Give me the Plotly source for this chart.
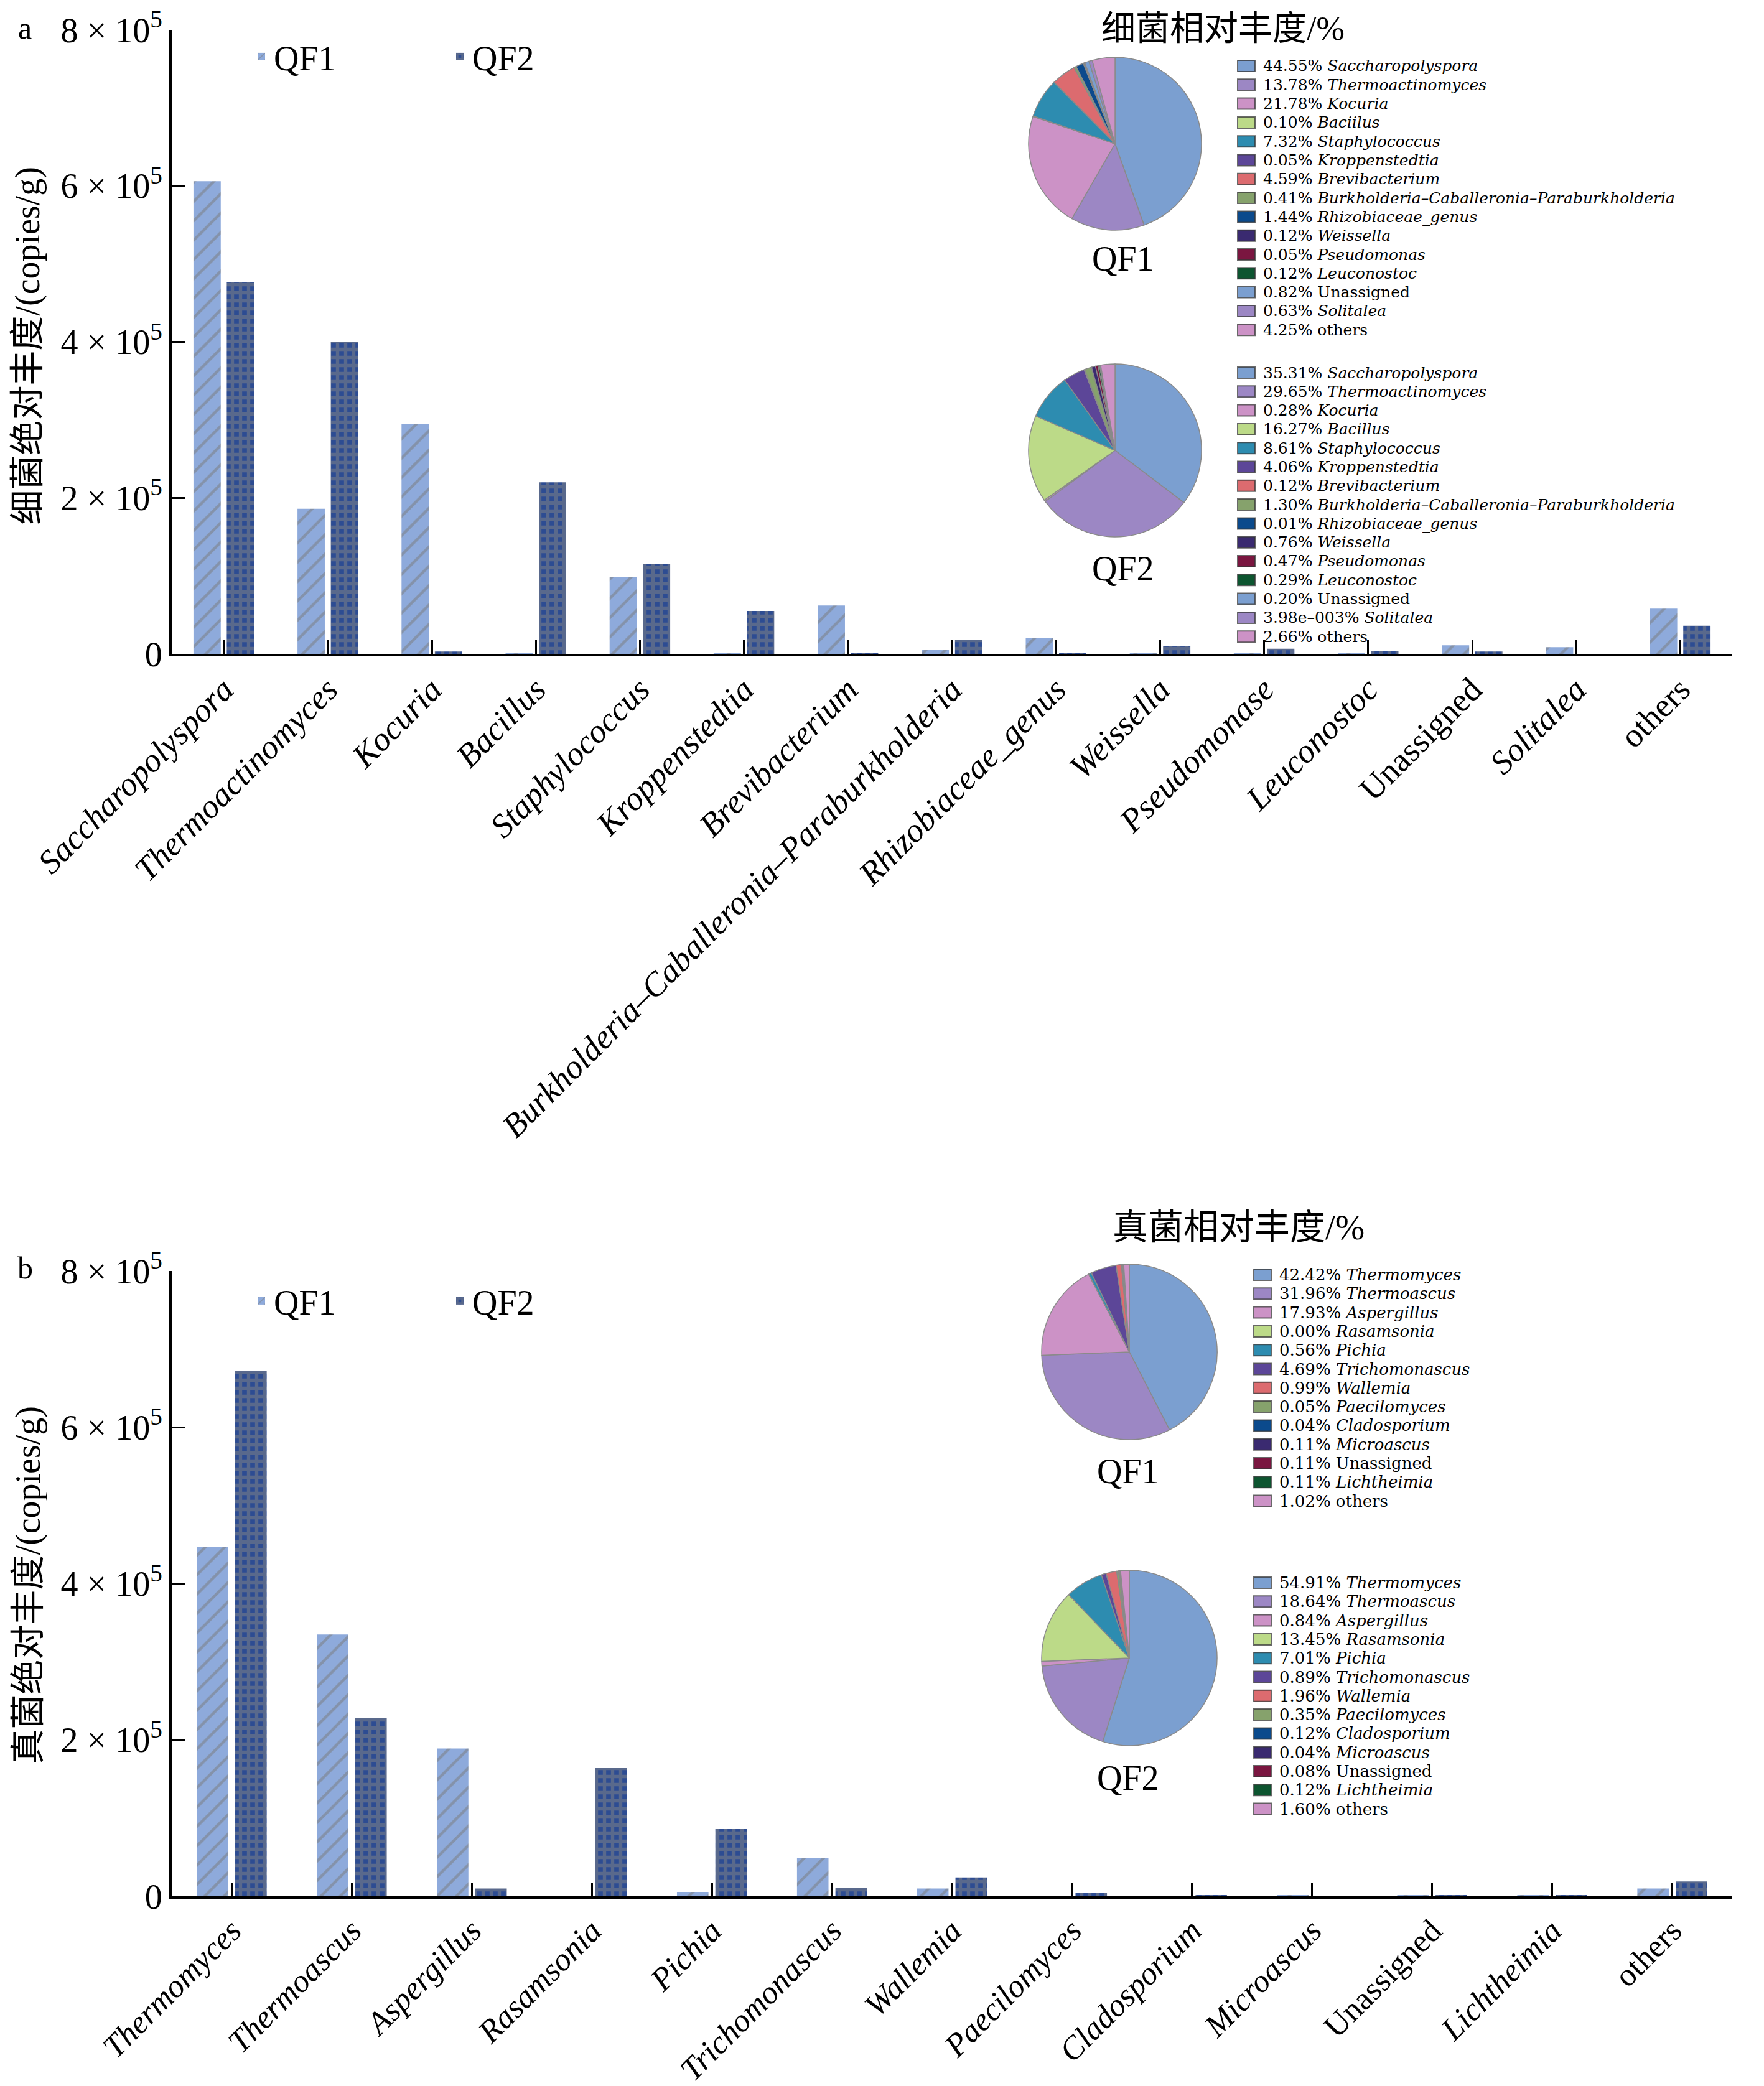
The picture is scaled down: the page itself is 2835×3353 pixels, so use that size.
"""Bacterial and fungal absolute / relative abundance, QF1 vs QF2."""

import plotly.graph_objects as go

W, H = 2835, 3353

# ---- bacteria -------------------------------------------------------------
bac_genus = [
    "Saccharopolyspora", "Thermoactinomyces", "Kocuria", "Bacillus",
    "Staphylococcus", "Kroppenstedtia", "Brevibacterium",
    "Burkholderia–Caballeronia–Paraburkholderia", "Rhizobiaceae_genus",
    "Weissella", "Pseudomonase", "Leuconostoc", "Unassigned", "Solitalea",
    "others",
]
bac_qf1 = [6.06e5, 1.86e5, 2.95e5, 0.012e5, 0.99e5, 0.006e5, 0.62e5, 0.05e5,
           0.20e5, 0.015e5, 0.006e5, 0.015e5, 0.11e5, 0.085e5, 0.58e5]
bac_qf2 = [4.77e5, 4.00e5, 0.03e5, 2.20e5, 1.15e5, 0.55e5, 0.016e5, 0.18e5,
           0.001e5, 0.10e5, 0.065e5, 0.04e5, 0.03e5, 0.0, 0.36e5]

bac_pie_names_qf1 = [
    "Saccharopolyspora", "Thermoactinomyces", "Kocuria", "Baciilus",
    "Staphylococcus", "Kroppenstedtia", "Brevibacterium",
    "Burkholderia–Caballeronia–Paraburkholderia", "Rhizobiaceae_genus",
    "Weissella", "Pseudomonas", "Leuconostoc", "Unassigned", "Solitalea",
    "others",
]
bac_pie_names_qf2 = [n.replace("Baciilus", "Bacillus") for n in bac_pie_names_qf1]
bac_pct_qf1 = [44.55, 13.78, 21.78, 0.10, 7.32, 0.05, 4.59, 0.41, 1.44, 0.12,
               0.05, 0.12, 0.82, 0.63, 4.25]
bac_pct_qf2 = [35.31, 29.65, 0.28, 16.27, 8.61, 4.06, 0.12, 1.30, 0.01, 0.76,
               0.47, 0.29, 0.20, 0.00398, 2.66]

# ---- fungi ----------------------------------------------------------------
fun_genus = [
    "Thermomyces", "Thermoascus", "Aspergillus", "Rasamsonia", "Pichia",
    "Trichomonascus", "Wallemia", "Paecilomyces", "Cladosporium",
    "Microascus", "Unassigned", "Lichtheimia", "others",
]
fun_qf1 = [4.47e5, 3.35e5, 1.89e5, 0.0, 0.056e5, 0.49e5, 0.10e5, 0.005e5,
           0.004e5, 0.012e5, 0.012e5, 0.012e5, 0.10e5]
fun_qf2 = [6.72e5, 2.28e5, 0.10e5, 1.64e5, 0.86e5, 0.11e5, 0.24e5, 0.04e5,
           0.015e5, 0.005e5, 0.01e5, 0.015e5, 0.19e5]
fun_pct_qf1 = [42.42, 31.96, 17.93, 0.001, 0.56, 4.69, 0.99, 0.05, 0.04, 0.11,
               0.11, 0.11, 1.02]
fun_pct_qf2 = [54.91, 18.64, 0.84, 13.45, 7.01, 0.89, 1.96, 0.35, 0.12, 0.04,
               0.08, 0.12, 1.60]

y_ticks = [0, 2e5, 4e5, 6e5, 8e5]
y_ticktext = ["0", "2 × 10<sup>5</sup>", "4 × 10<sup>5</sup>",
              "6 × 10<sup>5</sup>", "8 × 10<sup>5</sup>"]

_PIE = ["#7b9fd0", "#9c87c4", "#cc92c6", "#bcda88", "#2d8cb0", "#5c4698",
        "#dc6b6f", "#86a26c", "#0b4a8c", "#3a2a70", "#7a1640", "#0d5530"]
bac_colors = _PIE + _PIE[:3]
fun_colors = _PIE + [_PIE[2]]

ROMAN = {"Unassigned", "others"}
SERIF = "Liberation Serif, Noto Sans CJK SC"
KEY_FONT = "DejaVu Serif"
ROW = 30.3  # key row pitch, px


def fmt_name(n):
    return n if n in ROMAN else f"<i>{n}</i>"


def fmt_pct(v):
    if 0.001 < v < 0.005:
        return f"{v:.2e}".replace("e-0", "e–00") + "%"
    return f"{v:.2f}%"


def px_x(x):
    return x / W


def px_y(y):
    return 1 - y / H


def pie_domain(cx, cy, r):
    return {"x": [px_x(cx - r), px_x(cx + r)], "y": [px_y(cy + r), px_y(cy - r)]}


def bar_pair(x, q1, q2, xa, ya, leg):
    t1 = go.Bar(
        x=x, y=q1, name="QF1", xaxis=xa, yaxis=ya, legend=leg,
        marker={"color": "#8eaadb", "line": {"width": 0},
                "pattern": {"shape": "/", "fgcolor": "#7a7a7a", "size": 22,
                            "solidity": 0.2}},
    )
    t2 = go.Bar(
        x=x, y=q2, name="QF2", xaxis=xa, yaxis=ya, legend=leg,
        marker={"color": "#2d4c92", "line": {"width": 0},
                "pattern": {"shape": "+", "fgcolor": "#858585", "size": 13,
                            "solidity": 0.65}},
    )
    return [t1, t2]


def pie(pct, colors, dom):
    return go.Pie(
        values=pct, sort=False, direction="clockwise", rotation=0,
        textinfo="none", showlegend=False, domain=dom,
        marker={"colors": colors, "line": {"color": "#8a8a8a", "width": 1.5}},
    )


def pie_key(fig, names, pct, colors, x0, y0, size):
    """Compact key beside a pie: swatch + 'pct name' per row."""
    for i, (n, v, c) in enumerate(zip(names, pct, colors)):
        yc = y0 + i * ROW
        fig.add_shape(
            type="rect", xref="paper", yref="paper",
            x0=px_x(x0), x1=px_x(x0 + 28), y0=px_y(yc + 9), y1=px_y(yc - 9),
            fillcolor=c, line={"color": "rgba(55,55,55,0.75)", "width": 2},
        )
        fig.add_annotation(
            text=f"{fmt_pct(v)} {fmt_name(n)}", x=px_x(x0 + 40), y=px_y(yc),
            xref="paper", yref="paper", xanchor="left", yanchor="middle",
            showarrow=False, borderpad=0,
            font={"family": KEY_FONT, "size": size},
        )


fig = go.Figure()
for t in bar_pair(bac_genus, bac_qf1, bac_qf2, "x", "y", "legend"):
    fig.add_trace(t)
for t in bar_pair(fun_genus, fun_qf1, fun_qf2, "x2", "y2", "legend2"):
    fig.add_trace(t)

fig.add_trace(pie(bac_pct_qf1, bac_colors, pie_domain(1784, 223, 139)))
fig.add_trace(pie(bac_pct_qf2, bac_colors, pie_domain(1784, 716, 139)))
fig.add_trace(pie(fun_pct_qf1, fun_colors, pie_domain(1807, 2165, 141)))
fig.add_trace(pie(fun_pct_qf2, fun_colors, pie_domain(1807, 2657, 141)))

pie_key(fig, bac_pie_names_qf1, bac_pct_qf1, bac_colors, 1981, 98, 25)
pie_key(fig, bac_pie_names_qf2, bac_pct_qf2, bac_colors, 1981, 591, 25)
pie_key(fig, fun_genus, fun_pct_qf1, fun_colors, 2007, 2041, 26)
pie_key(fig, fun_genus, fun_pct_qf2, fun_colors, 2007, 2536, 26)

axis_common = {
    "showline": True, "linecolor": "black", "linewidth": 4,
    "ticks": "inside", "ticklen": 22, "tickwidth": 3, "tickcolor": "black",
    "showgrid": False, "zeroline": False, "automargin": False,
}
xdom = [px_x(268), px_x(2776)]

fig.update_layout(
    xaxis={**axis_common, "domain": xdom, "anchor": "y",
           "tickvals": bac_genus, "ticktext": [fmt_name(n) for n in bac_genus],
           "tickangle": -45, "tickfont": {"family": SERIF, "size": 54}},
    yaxis={**axis_common, "domain": [px_y(1043), px_y(40)], "anchor": "x",
           "range": [0, 8e5], "tickvals": y_ticks, "ticktext": y_ticktext,
           "tickfont": {"family": SERIF, "size": 56}},
    xaxis2={**axis_common, "domain": xdom, "anchor": "y2",
            "tickvals": fun_genus, "ticktext": [fmt_name(n) for n in fun_genus],
            "tickangle": -45, "tickfont": {"family": SERIF, "size": 52}},
    yaxis2={**axis_common, "domain": [px_y(3040), px_y(2035)], "anchor": "x2",
            "range": [0, 8e5], "tickvals": y_ticks, "ticktext": y_ticktext,
            "tickfont": {"family": SERIF, "size": 56}},
    barmode="group", bargap=0.36, bargroupgap=0.18,
    width=W, height=H, margin={"l": 0, "r": 0, "t": 0, "b": 0},
    paper_bgcolor="white", plot_bgcolor="white",
    font={"family": SERIF, "color": "black"},
)

bar_leg = {"orientation": "h", "font": {"family": SERIF, "size": 56},
           "bgcolor": "rgba(0,0,0,0)", "entrywidth": 274,
           "xanchor": "left", "yanchor": "middle"}
fig.update_layout(
    legend={**bar_leg, "x": px_x(392), "y": px_y(83)},
    legend2={**bar_leg, "x": px_x(392), "y": px_y(2083)},
)

# y-axis titles, placed by hand so they sit close to the page edge
for text, yc in [("细菌绝对丰度/(copies/g)", 548), ("真菌绝对丰度/(copies/g)", 2540)]:
    fig.add_annotation(
        text=text, x=px_x(4), y=px_y(yc), xref="paper", yref="paper",
        textangle=-90, showarrow=False, borderpad=0,
        font={"family": SERIF, "size": 56},
        xanchor="left", yanchor="middle",
    )

notes = [
    ("a", 32, 37, 50), ("b", 32, 2030, 50),
    ("细菌相对丰度/%", 1957, 38, 55), ("真菌相对丰度/%", 1982, 1965, 57),
    ("QF1", 1797, 408, 56), ("QF2", 1797, 906, 56),
    ("QF1", 1805, 2357, 56), ("QF2", 1805, 2850, 56),
]
for text, x, y, size in notes:
    fig.add_annotation(
        text=text, x=px_x(x), y=px_y(y), xref="paper", yref="paper",
        showarrow=False, font={"family": SERIF, "size": size},
        xanchor="center", yanchor="middle", borderpad=0,
    )

fig.write_html("out.html")
